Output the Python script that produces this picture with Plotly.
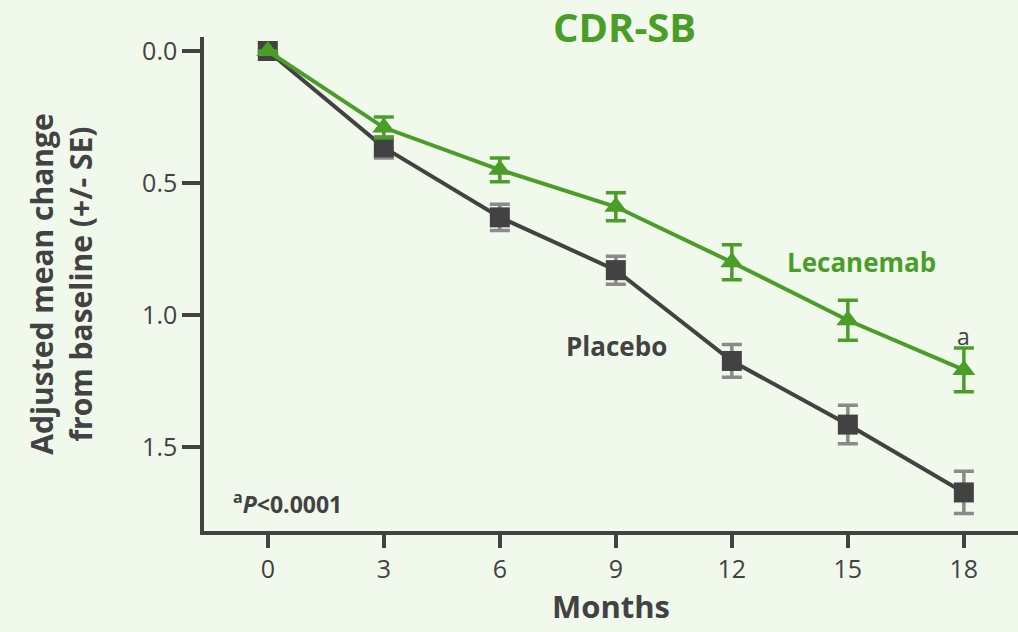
import plotly.graph_objects as go

months = [0, 3, 6, 9, 12, 15, 18]
placebo = [0.0, 0.365, 0.63, 0.83, 1.174, 1.415, 1.672]
placebo_se = [0.0, 0.04, 0.05, 0.053, 0.062, 0.073, 0.08]
lecanemab = [0.0, 0.29, 0.45, 0.59, 0.80, 1.02, 1.208]
lecanemab_se = [0.0, 0.04, 0.045, 0.053, 0.066, 0.076, 0.083]
y_ticks = [0.0, 0.5, 1.0, 1.5]
y_tick_labels = ["0.0", "0.5", "1.0", "1.5"]

GREEN = "#4a9e28"
DARK = "#424242"
GRAY = "#8a8a8a"
BG = "#f0f9ec"
FONT = "Open Sans"

fig = go.Figure()
fig.add_trace(go.Scatter(
    x=months, y=placebo, mode="lines+markers", name="Placebo",
    line=dict(color=DARK, width=4),
    marker=dict(symbol="square", size=20, color=DARK),
    error_y=dict(type="data", array=placebo_se, color=GRAY, thickness=3.5, width=10),
    cliponaxis=False,
))
fig.add_trace(go.Scatter(
    x=months, y=lecanemab, mode="lines+markers", name="Lecanemab",
    line=dict(color=GREEN, width=4),
    marker=dict(symbol="triangle-up", size=20, color=GREEN),
    error_y=dict(type="data", array=lecanemab_se, color=GREEN, thickness=3.5, width=10),
    cliponaxis=False,
))

fig.update_layout(
    width=1018, height=632,
    paper_bgcolor=BG, plot_bgcolor=BG,
    margin=dict(l=204, r=0, t=37, b=101),
    showlegend=False,
    font=dict(family=FONT, color=DARK, size=24),
    title=dict(text="<b>CDR-SB</b>", x=0.6135, xanchor="center", y=0.955, yanchor="middle",
               font=dict(family=FONT, size=40, color=GREEN)),
    xaxis=dict(
        range=[-1.65, 19.4], tickvals=months, showgrid=False, zeroline=False,
        showline=True, linecolor=DARK, linewidth=3.5,
        ticks="outside", ticklen=13, tickwidth=3.5, tickcolor=DARK,
        tickfont=dict(size=25, color=DARK, family=FONT),
        title=dict(text="<b>Months</b>", font=dict(size=31, color=DARK, family=FONT), standoff=10),
    ),
    yaxis=dict(
        range=[1.818, -0.053], tickvals=y_ticks, ticktext=y_tick_labels,
        showgrid=False, zeroline=False,
        showline=True, linecolor=DARK, linewidth=3.5,
        ticks="outside", ticklen=18, tickwidth=3.5, tickcolor=DARK,
        tickfont=dict(size=25, color=DARK, family=FONT),
        title=dict(text="<b>Adjusted mean change<br>from baseline (+/- SE)</b>",
                   font=dict(size=30, color=DARK, family=FONT), standoff=42),
    ),
)

fig.add_annotation(x=15.34, y=0.80, text="<b>Lecanemab</b>", showarrow=False,
                   xanchor="center", yanchor="middle",
                   font=dict(size=26, color=GREEN, family=FONT))
fig.add_annotation(x=9.03, y=1.117, text="<b>Placebo</b>", showarrow=False,
                   xanchor="center", yanchor="middle",
                   font=dict(size=26, color=DARK, family=FONT))
fig.add_annotation(x=18, y=1.08, text="a", showarrow=False,
                   xanchor="center", yanchor="middle",
                   font=dict(size=23, color=DARK, family=FONT))
fig.add_annotation(xref="paper", yref="paper", x=0.033, y=0.057,
                   text="<b><sup>a</sup><i>P</i><0.0001</b>", showarrow=False,
                   xanchor="left", yanchor="middle",
                   font=dict(size=23, color=DARK, family=FONT))

fig.write_html(
    "out.html",
    config={"displayModeBar": False},
    post_script="document.body.style.margin='0';document.body.style.background='%s';" % BG,
)
